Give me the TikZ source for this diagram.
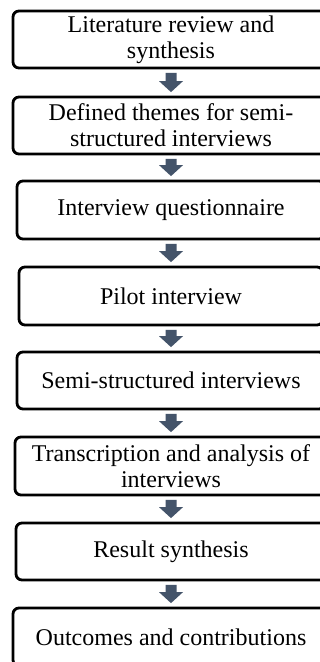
\documentclass[tikz,border=0pt]{standalone}
\usepackage{fontspec}
\setmainfont{Liberation Serif}
\usetikzlibrary{calc}
\definecolor{arrowblue}{HTML}{44546A}
\tikzset{
  stepbox/.style={draw=black, line width=2.8pt, rounded corners=6pt, fill=white,
    align=center, inner sep=0pt, font=\fontsize{24}{26}\selectfont},
  arrowfill/.style={fill=arrowblue}
}
\newcommand\flowarrow[2]{%
  \path (#1.south) ++(0,3.5) coordinate (ft) (#2.north) ++(0,-3.5) coordinate (fb);
  \fill[arrowfill] ($(ft)+(-5.5,0)$) -- ($(ft)+(5.5,0)$) -- ($(fb)+(5.5,-11)$) --
    ($(fb)+(12,-11)$) -- (fb) -- ($(fb)+(-12,-11)$) -- ($(fb)+(-5.5,-11)$) -- cycle;}
\begin{document}
\begin{tikzpicture}[x=1pt,y=-1pt]
\useasboundingbox (0,0) rectangle (320,662);
\fill[white] (0,0) rectangle (320,662);
\begin{scope}
\clip (0,0) rectangle (320,662);
\node[stepbox, minimum width=316pt, minimum height=57pt] (n1) at (171,39.5) {Literature review and\\synthesis};
\node[stepbox, minimum width=316pt, minimum height=57pt] (n2) at (171,125.5) {Defined themes for semi-\\structured interviews};
\node[stepbox, minimum width=308pt, minimum height=58pt] (n3) at (171,210) {Interview questionnaire};
\node[stepbox, minimum width=304pt, minimum height=58pt] (n4) at (171,296) {Pilot interview};
\node[stepbox, minimum width=308pt, minimum height=57pt] (n5) at (171,380.5) {Semi-structured interviews};
\node[stepbox, minimum width=312pt, minimum height=58pt] (n6) at (171,466) {Transcription and analysis of\\interviews};
\node[stepbox, minimum width=310pt, minimum height=57pt] (n7) at (171,551.5) {Result synthesis};
\node[stepbox, minimum width=316pt, minimum height=58pt] (n8) at (171,637) {Outcomes and contributions};
\flowarrow{n1}{n2}
\flowarrow{n2}{n3}
\flowarrow{n3}{n4}
\flowarrow{n4}{n5}
\flowarrow{n5}{n6}
\flowarrow{n6}{n7}
\flowarrow{n7}{n8}
\end{scope}
\end{tikzpicture}
\end{document}
